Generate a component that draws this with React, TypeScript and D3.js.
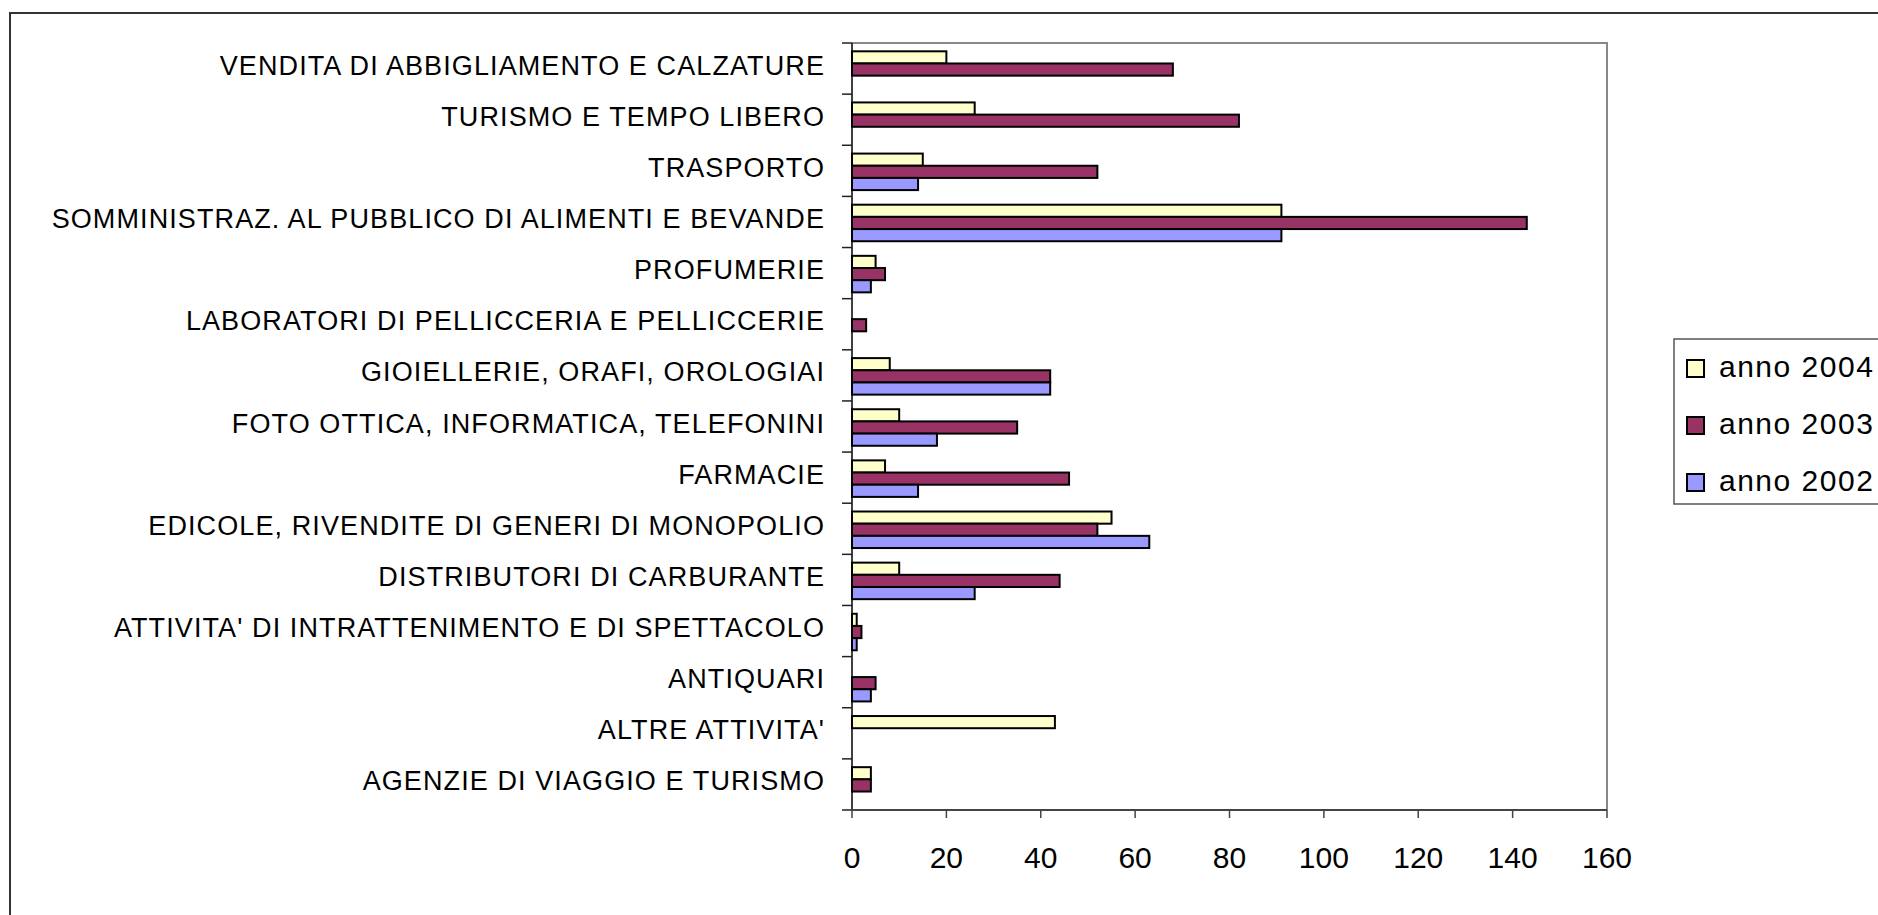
import React, { useEffect } from 'react'
import * as d3 from 'd3'

// categories as they appear from top to bottom
const categories = [
  'VENDITA DI ABBIGLIAMENTO E CALZATURE',
  'TURISMO E TEMPO LIBERO',
  'TRASPORTO',
  'SOMMINISTRAZ. AL PUBBLICO DI ALIMENTI E BEVANDE',
  'PROFUMERIE',
  'LABORATORI DI PELLICCERIA E PELLICCERIE',
  'GIOIELLERIE, ORAFI, OROLOGIAI',
  'FOTO OTTICA, INFORMATICA, TELEFONINI',
  'FARMACIE',
  'EDICOLE, RIVENDITE DI GENERI DI MONOPOLIO',
  'DISTRIBUTORI DI CARBURANTE',
  "ATTIVITA' DI INTRATTENIMENTO E DI SPETTACOLO",
  'ANTIQUARI',
  "ALTRE ATTIVITA'",
  'AGENZIE DI VIAGGIO E TURISMO',
]

const anno2004 = [20, 26, 15, 91, 5, 0, 8, 10, 7, 55, 10, 1, 0, 43, 4]
const anno2003 = [68, 82, 52, 143, 7, 3, 42, 35, 46, 52, 44, 2, 5, 0, 4]
const anno2002 = [0, 0, 14, 91, 4, 0, 42, 18, 14, 63, 26, 1, 4, 0, 0]

const seriesNames = ['anno 2004', 'anno 2003', 'anno 2002']
const seriesColors = ['#FFFFCC', '#993366', '#9999FF']
const xTicks = [0, 20, 40, 60, 80, 100, 120, 140, 160]

const W = 1878
const H = 915
const plot = { left: 852, right: 1607, top: 43, bottom: 810 }

export default function App() {
  useEffect(() => {
    document.body.style.margin = '0'
    document.body.style.overflow = 'hidden'
  }, [])

  const series = [anno2004, anno2003, anno2002]

  const x = d3.scaleLinear().domain([0, 160]).range([plot.left, plot.right])
  const y = d3.scaleBand().domain(categories).range([plot.top, plot.bottom]).padding(0)
  const groupH = y.bandwidth() / 1.4 // gap width 40%
  const inner = d3.scaleBand().domain(seriesNames).range([0, groupH]).padding(0)

  const font = 'Arial, "Liberation Sans", sans-serif'

  return (
    <svg width={W} height={H} style={{ display: 'block', background: '#fff' }}>
      {/* outer frame */}
      <rect x={10} y={13} width={W + 20} height={H + 20} fill="none" stroke="#333" strokeWidth={2} />

      {/* plot border top/right */}
      <path
        d={`M${plot.left},${plot.top}H${plot.right}V${plot.bottom}`}
        fill="none"
        stroke="#888"
        strokeWidth={2}
      />

      {/* bars */}
      {categories.map((c, i) => {
        const y0 = (y(c) as number) + (y.bandwidth() - groupH) / 2 + 1
        return (
          <g key={c}>
            {series.map((vals, s) =>
              vals[i] > 0 ? (
                <rect
                  key={s}
                  x={x(0)}
                  y={y0 + (inner(seriesNames[s]) as number)}
                  width={x(vals[i]) - x(0)}
                  height={inner.bandwidth()}
                  fill={seriesColors[s]}
                  stroke="#000"
                  strokeWidth={2}
                />
              ) : null
            )}
          </g>
        )
      })}

      {/* category axis */}
      <line x1={plot.left} x2={plot.left} y1={plot.top} y2={plot.bottom} stroke="#000" strokeWidth={1.5} />
      {d3.range(categories.length + 1).map(i => {
        const yy = plot.top + i * y.step()
        return <line key={i} x1={plot.left - 10} x2={plot.left} y1={yy} y2={yy} stroke="#222" strokeWidth={1.5} />
      })}
      {categories.map(c => (
        <text
          key={c}
          x={plot.left - 27}
          y={(y(c) as number) + y.bandwidth() / 2 + 6}
          textAnchor="end"
          fontFamily={font}
          fontSize={27}
          letterSpacing={1.1}
          fill="#000"
        >
          {c}
        </text>
      ))}

      {/* value axis */}
      <line x1={plot.left} x2={plot.right} y1={plot.bottom} y2={plot.bottom} stroke="#444" strokeWidth={2} />
      {xTicks.map(t => (
        <g key={t}>
          <line x1={x(t)} x2={x(t)} y1={plot.bottom} y2={plot.bottom + 8} stroke="#444" strokeWidth={1.5} />
          <text x={x(t)} y={867.5} textAnchor="middle" fontFamily={font} fontSize={30} fill="#000">
            {t}
          </text>
        </g>
      ))}

      {/* legend */}
      <rect x={1674} y={339} width={260} height={165} fill="#fff" stroke="#555" strokeWidth={1.5} />
      {seriesNames.map((name, s) => {
        const base = 377 + s * 57
        return (
          <g key={name}>
            <rect x={1687} y={base - 17} width={17} height={17} fill={seriesColors[s]} stroke="#000" strokeWidth={2} />
            <text x={1719} y={base} fontFamily={font} fontSize={30} letterSpacing={1.5} fill="#000">
              {name}
            </text>
          </g>
        )
      })}
    </svg>
  )
}
